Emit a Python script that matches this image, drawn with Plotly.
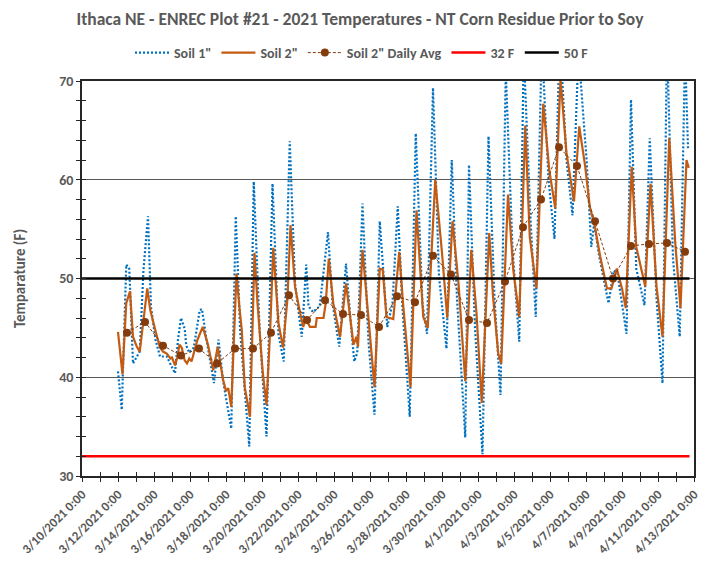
import plotly.graph_objects as go

# ---------------- data ----------------
soil2_times = [
    "2021-03-12 00:00", "2021-03-12 06:00", "2021-03-12 11:00", "2021-03-12 16:00", "2021-03-12 20:00",
    "2021-03-13 01:00", "2021-03-13 05:00", "2021-03-13 12:00", "2021-03-13 15:00", "2021-03-13 19:00",
    "2021-03-13 22:00", "2021-03-14 03:00", "2021-03-14 08:00", "2021-03-14 12:00", "2021-03-14 17:00",
    "2021-03-14 22:00", "2021-03-15 00:00", "2021-03-15 04:00", "2021-03-15 07:00", "2021-03-15 10:00",
    "2021-03-15 13:00", "2021-03-15 17:00", "2021-03-15 20:00", "2021-03-15 23:00", "2021-03-16 02:00",
    "2021-03-16 10:00", "2021-03-16 17:00", "2021-03-16 21:00", "2021-03-17 00:00", "2021-03-17 07:00",
    "2021-03-17 10:00", "2021-03-17 13:00", "2021-03-17 16:00", "2021-03-17 20:00", "2021-03-18 00:00",
    "2021-03-18 03:00", "2021-03-18 07:00", "2021-03-18 11:00", "2021-03-18 14:00", "2021-03-18 18:00",
    "2021-03-18 21:00", "2021-03-19 01:00", "2021-03-19 08:00", "2021-03-19 11:00", "2021-03-19 14:00",
    "2021-03-19 18:00", "2021-03-19 21:00", "2021-03-20 01:00", "2021-03-20 06:00", "2021-03-20 11:00",
    "2021-03-20 15:00", "2021-03-20 22:00", "2021-03-21 04:00", "2021-03-21 10:00", "2021-03-21 14:00",
    "2021-03-21 20:00", "2021-03-22 02:00", "2021-03-22 07:00", "2021-03-22 10:00", "2021-03-22 16:00",
    "2021-03-22 23:30", "2021-03-23 01:00", "2021-03-23 10:00", "2021-03-23 13:00", "2021-03-23 17:00",
    "2021-03-23 23:00", "2021-03-24 08:00", "2021-03-24 16:00", "2021-03-24 22:00", "2021-03-25 02:00",
    "2021-03-25 06:00", "2021-03-25 08:00", "2021-03-25 14:00", "2021-03-25 22:00", "2021-03-26 06:00",
    "2021-03-26 13:00", "2021-03-26 17:00", "2021-03-26 22:00", "2021-03-27 07:00", "2021-03-27 15:00",
    "2021-03-27 20:00", "2021-03-28 06:00", "2021-03-28 14:00", "2021-03-28 23:00", "2021-03-29 05:00",
    "2021-03-29 15:00", "2021-03-30 00:00", "2021-03-30 07:00", "2021-03-30 14:00", "2021-03-30 22:00",
    "2021-03-31 07:00", "2021-03-31 15:00", "2021-03-31 22:00", "2021-04-01 05:00", "2021-04-01 15:00",
    "2021-04-01 20:00", "2021-04-02 03:00", "2021-04-02 07:00", "2021-04-02 16:00", "2021-04-02 23:00",
    "2021-04-03 07:00", "2021-04-03 15:00", "2021-04-03 21:00", "2021-04-04 06:00", "2021-04-04 15:00",
    "2021-04-04 23:00", "2021-04-05 07:00", "2021-04-05 14:00", "2021-04-05 22:00", "2021-04-06 08:00",
    "2021-04-06 15:00", "2021-04-06 23:00", "2021-04-07 05:00", "2021-04-07 12:00", "2021-04-07 19:00",
    "2021-04-08 04:00", "2021-04-08 10:00", "2021-04-08 17:00", "2021-04-09 00:00", "2021-04-09 05:00",
    "2021-04-09 13:00", "2021-04-09 19:00", "2021-04-10 07:00", "2021-04-10 14:00", "2021-04-10 22:00",
    "2021-04-11 06:00", "2021-04-11 15:00", "2021-04-11 23:00", "2021-04-12 06:00", "2021-04-12 14:00",
    "2021-04-12 17:00",
]
soil2_values = [
    44.6, 40.3, 47.5, 48.7, 44.1,
    43.1, 42.6, 46.8, 49.0, 46.8,
    45.8, 44.4, 43.0, 42.6, 42.4,
    41.9, 42.0, 41.2, 42.0, 43.3,
    43.0, 41.7, 41.4, 41.9, 41.6,
    43.8, 45.1, 44.1, 43.3, 40.7,
    42.0, 43.1, 41.6, 39.8, 38.6,
    38.9, 37.0, 44.0, 50.5, 47.0,
    44.8, 39.0, 36.0, 44.0, 52.6,
    47.5, 44.1, 40.5, 37.2, 45.0,
    53.1, 45.5, 43.0, 48.0, 55.4,
    49.2, 46.8, 45.1, 45.9, 45.1,
    45.1, 46.0, 46.0, 47.5, 52.0,
    47.5, 44.1, 49.5, 45.8, 43.3,
    44.1, 43.1, 52.9, 45.8, 39.0,
    51.0, 50.9, 46.1, 45.9, 52.7,
    47.5, 39.0, 56.9, 46.1, 45.0,
    60.0, 52.6, 46.0, 55.8, 49.5,
    39.6, 52.9, 46.5, 37.4, 54.6,
    48.2, 42.4, 41.4, 58.5, 50.9,
    46.1, 65.5, 54.2, 49.0, 67.7,
    61.0, 57.1, 70.2, 62.7, 57.8,
    65.4, 61.3, 57.3, 55.2, 52.2,
    49.0, 49.0, 51.0, 49.0, 47.0,
    61.3, 53.2, 49.2, 59.6, 49.2,
    44.1, 64.2, 53.6, 47.0, 62.0,
    61.2,
]

soil1_times = [
    "2021-03-12 00:00", "2021-03-12 05:00", "2021-03-12 11:00", "2021-03-12 15:00", "2021-03-12 20:00",
    "2021-03-13 00:00", "2021-03-13 05:00", "2021-03-13 10:00", "2021-03-13 16:00", "2021-03-13 20:00",
    "2021-03-14 02:00", "2021-03-14 08:00", "2021-03-14 17:00", "2021-03-15 04:00", "2021-03-15 08:00",
    "2021-03-15 12:00", "2021-03-15 14:00", "2021-03-15 17:00", "2021-03-15 19:00", "2021-03-15 23:00",
    "2021-03-16 05:00", "2021-03-16 13:00", "2021-03-16 16:00", "2021-03-16 22:00", "2021-03-17 08:00",
    "2021-03-17 14:00", "2021-03-17 20:00", "2021-03-18 07:00", "2021-03-18 13:00", "2021-03-18 19:00",
    "2021-03-19 07:00", "2021-03-19 13:00", "2021-03-19 21:00", "2021-03-20 06:00", "2021-03-20 14:00",
    "2021-03-20 22:00", "2021-03-21 05:00", "2021-03-21 13:00", "2021-03-21 20:00", "2021-03-22 05:00",
    "2021-03-22 11:00", "2021-03-22 14:00", "2021-03-22 20:00", "2021-03-23 05:00", "2021-03-23 16:00",
    "2021-03-23 22:00", "2021-03-24 07:00", "2021-03-24 16:00", "2021-03-24 22:00", "2021-03-25 03:00",
    "2021-03-25 07:00", "2021-03-25 14:00", "2021-03-25 22:00", "2021-03-26 06:00", "2021-03-26 13:00",
    "2021-03-26 18:00", "2021-03-26 23:00", "2021-03-27 06:00", "2021-03-27 13:00", "2021-03-27 19:00",
    "2021-03-28 05:00", "2021-03-28 13:00", "2021-03-28 22:00", "2021-03-29 04:00", "2021-03-29 12:00",
    "2021-03-29 20:00", "2021-03-30 06:00", "2021-03-30 13:00", "2021-03-30 20:00", "2021-03-31 07:00",
    "2021-03-31 12:00", "2021-03-31 20:00", "2021-04-01 06:00", "2021-04-01 14:00", "2021-04-01 22:00",
    "2021-04-02 06:00", "2021-04-02 13:00", "2021-04-02 22:00", "2021-04-03 07:00", "2021-04-03 13:00",
    "2021-04-03 22:00", "2021-04-04 05:00", "2021-04-04 13:00", "2021-04-04 22:00", "2021-04-05 06:00",
    "2021-04-05 13:00", "2021-04-05 22:00", "2021-04-06 06:00", "2021-04-06 14:00", "2021-04-07 01:00",
    "2021-04-07 07:00", "2021-04-07 11:00", "2021-04-07 17:00", "2021-04-08 06:00", "2021-04-08 13:00",
    "2021-04-08 18:00", "2021-04-09 06:00", "2021-04-09 12:00", "2021-04-09 19:00", "2021-04-10 06:00",
    "2021-04-10 13:00", "2021-04-10 22:00", "2021-04-11 06:00", "2021-04-11 12:00", "2021-04-11 20:00",
    "2021-04-12 05:00", "2021-04-12 12:00", "2021-04-12 16:00",
]
soil1_values = [
    40.6, 36.7, 51.4, 51.0, 41.4,
    42.0, 42.6, 50.9, 56.3, 47.1,
    43.8, 42.1, 42.1, 40.4, 43.8,
    46.0, 45.5, 44.9, 43.2, 42.5,
    43.0, 46.8, 46.9, 43.8, 39.4,
    43.8, 39.7, 34.8, 56.3, 44.5,
    33.0, 59.8, 44.5, 34.0, 59.6,
    44.3, 41.6, 63.9, 49.5, 44.1,
    51.4, 47.2, 46.6, 47.2, 54.7,
    47.5, 43.1, 51.5, 45.8, 41.6,
    42.5, 57.6, 43.6, 36.2, 55.8,
    50.2, 45.1, 47.5, 57.3, 47.4,
    36.0, 64.7, 47.4, 44.4, 69.3,
    50.2, 42.9, 62.0, 48.0, 33.9,
    61.5, 45.0, 32.2, 64.4, 48.0,
    38.2, 71.0, 53.0, 43.6, 73.0,
    56.0, 46.1, 74.0, 60.0, 54.0,
    75.0, 62.0, 56.4, 73.0, 61.8,
    53.2, 55.6, 52.5, 47.5, 50.8,
    50.5, 44.4, 68.1, 51.0, 47.3,
    64.2, 48.0, 39.4, 74.0, 52.0,
    44.1, 73.0, 63.2,
]

avg_days = [
    "2021-03-12 12:00", "2021-03-13 12:00", "2021-03-14 12:00", "2021-03-15 12:00", "2021-03-16 12:00",
    "2021-03-17 12:00", "2021-03-18 12:00", "2021-03-19 12:00", "2021-03-20 12:00", "2021-03-21 12:00",
    "2021-03-22 12:00", "2021-03-23 12:00", "2021-03-24 12:00", "2021-03-25 12:00", "2021-03-26 12:00",
    "2021-03-27 12:00", "2021-03-28 12:00", "2021-03-29 12:00", "2021-03-30 12:00", "2021-03-31 12:00",
    "2021-04-01 12:00", "2021-04-02 12:00", "2021-04-03 12:00", "2021-04-04 12:00", "2021-04-05 12:00",
    "2021-04-06 12:00", "2021-04-07 12:00", "2021-04-08 12:00", "2021-04-09 12:00", "2021-04-10 12:00",
    "2021-04-11 12:00", "2021-04-12 12:00",
]
avg_values = [
    44.5, 45.6, 43.2, 42.2, 42.9,
    41.4, 42.9, 42.9, 44.5, 48.3,
    45.8, 47.8, 46.4, 46.3, 45.1,
    48.2, 47.6, 52.3, 50.4, 45.8,
    45.5, 49.7, 55.2, 58.0, 63.3,
    61.4, 55.8, 50.0, 53.3, 53.5,
    53.6, 52.7,
]

ref_times = ["2021-03-10 00:00", "2021-04-12 18:00"]
ref32_values = [32, 32]
ref50_values = [50, 50]

title_text = "Ithaca NE - ENREC Plot #21 - 2021 Temperatures - NT Corn Residue Prior to Soy"
y_title = "Temparature (F)"
x_range = ["2021-03-10 00:00", "2021-04-13 00:00"]
y_range = [30, 70]

# ---------------- figure ----------------
FONT = "Carlito, Lato, sans-serif"
GRAY = "#595959"
AX = "#262626"
DAY_MS = 86400000
W, H = 712, 567   # page body has an 8px margin inside the 720x575 window

fig = go.Figure()
fig.add_trace(go.Scatter(x=soil1_times, y=soil1_values, mode="lines", name='Soil 1"',
                         line=dict(color="#0070C0", width=2.2, dash="2px,2px")))
fig.add_trace(go.Scatter(x=soil2_times, y=soil2_values, mode="lines", name='Soil 2"',
                         line=dict(color="#C55A11", width=2.2)))
fig.add_trace(go.Scatter(x=avg_days, y=avg_values, mode="lines+markers", name='Soil 2" Daily Avg',
                         line=dict(color="#843C0C", width=1, dash="3px,2px"),
                         marker=dict(color="#843C0C", size=8)))
fig.add_trace(go.Scatter(x=ref_times, y=ref32_values, mode="lines", name="32 F",
                         line=dict(color="#FF0000", width=2.5)))
fig.add_trace(go.Scatter(x=ref_times, y=ref50_values, mode="lines", name="50 F",
                         line=dict(color="#000000", width=2.5)))
# invisible helper trace for the inner-tick overlay axes
fig.add_trace(go.Scatter(x=x_range, y=y_range, xaxis="x2", yaxis="y2", mode="lines",
                         line=dict(width=0), showlegend=False, hoverinfo="skip"))

fig.update_layout(
    width=W, height=H,
    margin=dict(l=74, r=26, t=73, b=99, autoexpand=False),
    paper_bgcolor="white", plot_bgcolor="white",
    font=dict(family=FONT, color=GRAY, size=13, weight="bold"),
    title=dict(text=title_text, x=352 / W, xref="container", xanchor="center",
               y=1 - 11 / H, yref="container", yanchor="middle",
               font=dict(family=FONT, size=17.5, color=GRAY, weight="bold")),
    legend=dict(orientation="h", x=354 / W, xref="container", xanchor="center",
                y=1 - 45 / H, yref="container", yanchor="middle",
                font=dict(family=FONT, size=14, color=GRAY, weight="bold"),
                itemwidth=34, tracegroupgap=0, bgcolor="rgba(0,0,0,0)"),
    showlegend=True,
    xaxis=dict(type="date", range=x_range, dtick=2 * DAY_MS, tick0="2021-03-10",
               tickformat="%-m/%-d/%Y %-H:%M", tickangle=-45, automargin=False,
               tickfont=dict(family=FONT, size=13, color=GRAY, weight="bold"),
               ticks="outside", ticklen=4, tickcolor=AX, tickwidth=1,
               minor=dict(dtick=DAY_MS, tick0="2021-03-10", ticks="outside", ticklen=4,
                          tickcolor=AX, tickwidth=1),
               showline=True, linecolor=AX, linewidth=1.5, mirror=True,
               showgrid=False, zeroline=False),
    yaxis=dict(range=y_range, dtick=10, tick0=30, automargin=False,
               tickfont=dict(family=FONT, size=14, color=GRAY, weight="bold"),
               ticks="outside", ticklen=4, tickcolor=AX, tickwidth=1,
               minor=dict(dtick=2, tick0=30, ticks="outside", ticklen=4,
                          tickcolor=AX, tickwidth=1),
               showline=True, linecolor=AX, linewidth=1.5, mirror=True,
               showgrid=True, gridcolor="#595959", gridwidth=1.2, zeroline=False,
               title=dict(text=y_title, standoff=30,
                          font=dict(family=FONT, size=15, color=GRAY, weight="bold"))),
    xaxis2=dict(type="date", range=x_range, overlaying="x", dtick=2 * DAY_MS, tick0="2021-03-10",
                showticklabels=False, ticks="inside", ticklen=4, tickcolor=AX, automargin=False,
                minor=dict(dtick=DAY_MS, tick0="2021-03-10", ticks="inside", ticklen=4,
                           tickcolor=AX),
                showgrid=False, zeroline=False, showline=False),
    yaxis2=dict(range=y_range, overlaying="y", dtick=10, tick0=30, automargin=False,
                showticklabels=False, ticks="inside", ticklen=4, tickcolor=AX,
                minor=dict(dtick=2, tick0=30, ticks="inside", ticklen=4, tickcolor=AX),
                showgrid=False, zeroline=False, showline=False),
)

fig.write_html("out.html")
